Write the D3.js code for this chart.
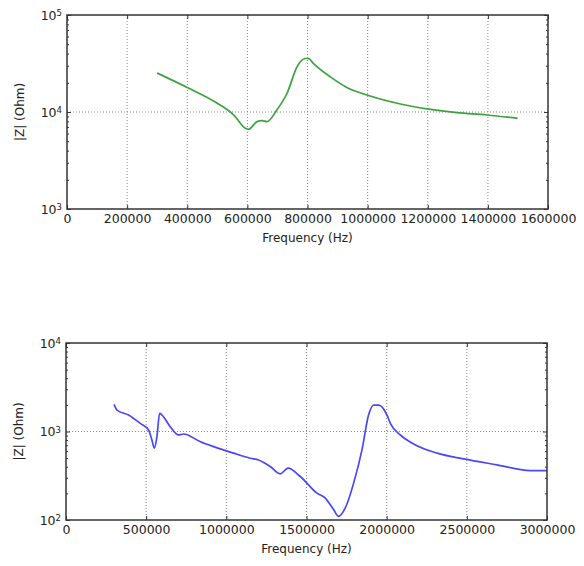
<!DOCTYPE html>
<html>
<head>
<meta charset="utf-8">
<script src="https://cdn.jsdelivr.net/npm/d3@7"></script>
<style>
  body { margin: 0; background: #fff; }
  text { font-family: "DejaVu Sans", sans-serif; fill: #222; }
</style>
</head>
<body>
<svg id="chart" width="584" height="566"></svg>
<script>
// Top panel: green impedance curve
const freqTop = [300000, 400000, 500000, 555000, 593000, 604000, 632000, 649000, 665000, 698000,
  732000, 765000, 776000, 792000, 803000, 820000, 876000, 931000, 998000, 1098000,
  1203000, 1297000, 1397000, 1499000];
const zTop = [25200, 17900, 12300, 9300, 6800, 6640, 7950, 8140, 7950, 10500,
  15600, 29200, 33000, 35600, 35600, 31500, 23000, 17900, 14950, 12300,
  10700, 9840, 9310, 8610];
const xTicksTop = [0, 200000, 400000, 600000, 800000, 1000000, 1200000, 1400000, 1600000];

// Bottom panel: blue impedance curve
const freqBot = [300000, 318000, 390000, 463000, 515000, 536000, 551000, 567000, 584000, 599000,
  650000, 702000, 733000, 838000, 921000, 1045000, 1149000, 1201000, 1274000, 1336000,
  1385000, 1461000, 1565000, 1617000, 1669000, 1700000, 1742000, 1794000, 1846000, 1887000,
  1919000, 1950000, 2002000, 2023000, 2085000, 2168000, 2314000, 2480000, 2688000, 2896000, 3000000];
const zBot = [2025, 1745, 1535, 1236, 1040, 802, 647, 873, 1603, 1535,
  1132, 914, 937, 767, 675, 569, 499, 477, 402, 332,
  385, 310, 201, 177, 131, 110, 137, 261, 619, 1535,
  1986, 1986, 1535, 1236, 914, 723, 569, 490, 420, 362, 362];
const xTicksBot = [0, 500000, 1000000, 1500000, 2000000, 2500000, 3000000];

const svg = d3.select("#chart");

function panel(cfg) {
  const g = svg.append("g").attr("transform", `translate(${cfg.left},${cfg.top})`);
  const w = cfg.width, h = cfg.height;

  const x = d3.scaleLinear().domain(cfg.xDomain).range([0, w]);
  const y = d3.scaleLog().domain(cfg.yDomain).range([h, 0]);

  const decades = [cfg.yDomain[0], Math.sqrt(cfg.yDomain[0] * cfg.yDomain[1]), cfg.yDomain[1]];
  const minors = [];
  for (let d = cfg.yDomain[0]; d < cfg.yDomain[1]; d *= 10)
    for (let m = 2; m <= 9; m++) minors.push(d * m);

  // grid
  g.append("g").selectAll("line").data(cfg.xTicks.slice(1, -1)).join("line")
    .attr("x1", d => x(d)).attr("x2", d => x(d)).attr("y1", 0).attr("y2", h)
    .attr("stroke", "#888").attr("stroke-dasharray", "1,2");
  g.append("g").selectAll("line").data(decades.slice(1, -1)).join("line")
    .attr("x1", 0).attr("x2", w).attr("y1", d => y(d)).attr("y2", d => y(d))
    .attr("stroke", "#888").attr("stroke-dasharray", "1,2");

  // curve
  g.append("path")
    .datum(cfg.freq.map((f, i) => [f, cfg.z[i]]))
    .attr("fill", "none")
    .attr("stroke", cfg.color)
    .attr("stroke-width", 1.7)
    .attr("stroke-linejoin", "round")
    .attr("d", d3.line().curve(d3.curveMonotoneX).x(d => x(d[0])).y(d => y(d[1])));

  // x axes (ticks inward)
  const xb = g.append("g").attr("transform", `translate(0,${h})`)
    .call(d3.axisBottom(x).tickValues(cfg.xTicks).tickFormat(d3.format("d"))
      .tickSizeInner(-4).tickSizeOuter(0).tickPadding(5));
  g.append("g")
    .call(d3.axisTop(x).tickValues(cfg.xTicks).tickFormat("").tickSizeInner(-4).tickSizeOuter(0));

  // y axes: majors, minors
  const yl = g.append("g")
    .call(d3.axisLeft(y).tickValues(decades).tickFormat("").tickSizeInner(-4).tickSizeOuter(0).tickPadding(4));
  g.append("g")
    .call(d3.axisLeft(y).tickValues(minors).tickFormat("").tickSizeInner(-2).tickSizeOuter(0));
  g.append("g").attr("transform", `translate(${w},0)`)
    .call(d3.axisRight(y).tickValues(decades).tickFormat("").tickSizeInner(-4).tickSizeOuter(0));
  g.append("g").attr("transform", `translate(${w},0)`)
    .call(d3.axisRight(y).tickValues(minors).tickFormat("").tickSizeInner(-2).tickSizeOuter(0));

  g.selectAll(".domain").remove();
  g.selectAll(".tick line").attr("stroke", "#333");
  xb.selectAll("text").style("font-size", "12.5px").attr("fill", "#222");

  // y tick labels as 10^n
  yl.selectAll(".tick").each(function(d) {
    const t = d3.select(this).append("text")
      .attr("x", -5).attr("dy", "0.35em").attr("text-anchor", "end")
      .style("font-size", "12.5px");
    t.append("tspan").text("10");
    t.append("tspan").attr("dy", "-0.45em").style("font-size", "8.5px").text(Math.round(Math.log10(d)));
  });

  // frame
  g.append("rect").attr("width", w).attr("height", h)
    .attr("fill", "none").attr("stroke", "#333").attr("stroke-width", 1.5);

  // labels
  g.append("text")
    .attr("x", w / 2).attr("y", h + 33)
    .attr("text-anchor", "middle")
    .style("font-size", "12px")
    .text("Frequency (Hz)");
  g.append("text")
    .attr("transform", `translate(${-43},${h / 2})rotate(-90)`)
    .attr("text-anchor", "middle")
    .style("font-size", "12px")
    .text("|Z| (Ohm)");
}

panel({left: 67, top: 15, width: 481, height: 194, xDomain: [0, 1600000], yDomain: [1e3, 1e5],
  xTicks: xTicksTop, freq: freqTop, z: zTop, color: "#3da33d"});
panel({left: 66, top: 343, width: 481, height: 177, xDomain: [0, 3000000], yDomain: [1e2, 1e4],
  xTicks: xTicksBot, freq: freqBot, z: zBot, color: "#4848f5"});
</script>
</body>
</html>
